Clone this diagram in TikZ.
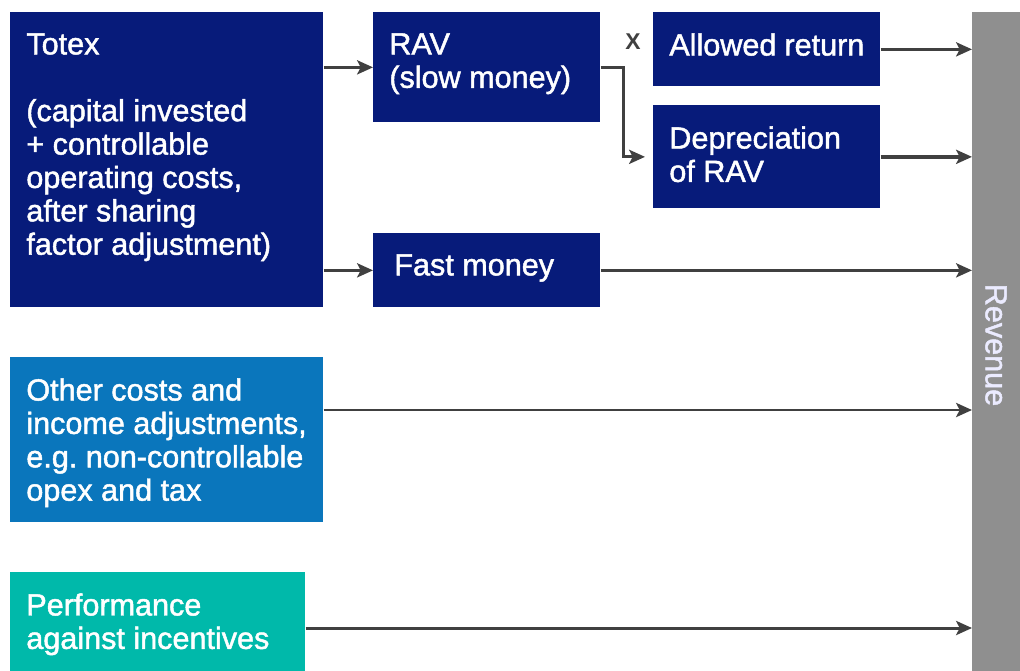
\documentclass[tikz,border=0pt]{standalone}
\usepackage{fontspec}
\setmainfont{Liberation Sans}
\newfontfamily\boxfont{Liberation Sans}[FakeBold=1.5]
\usepackage{xcolor}
\usetikzlibrary{arrows.meta}
\definecolor{navy}{RGB}{7,27,122}
\definecolor{midblue}{RGB}{10,118,188}
\definecolor{tealgreen}{RGB}{0,185,170}
\definecolor{bargray}{RGB}{143,143,143}
\definecolor{arrowgray}{RGB}{64,64,64}
\newcommand{\boxtext}[3]{\parbox[c][#2][t]{#1}{\raggedright #3}}
\frenchspacing

\begin{document}
\begin{tikzpicture}[
        box/.style={anchor=north west, inner xsep=0.32cm, inner ysep=0.42cm, text=white, font=\boxfont\fontsize{17.4}{19}\selectfont},
        arr/.style={draw=arrowgray, line width=1.7pt, -{Stealth[length=9pt,width=8pt,inset=2pt]}},
        mult/.style={text=arrowgray, inner sep=0pt, font=\bfseries\fontsize{13}{15}\selectfont}
    ]
        \useasboundingbox (0,0) rectangle (20.4,-13.42);
        % boxes on the left
        \node[box, fill=navy] (totex) at (0.2,-0.24) {\boxtext{5.62cm}{5.06cm}{Totex\\[19pt](capital invested\\+ controllable\\operating costs,\\after sharing\\factor adjustment)}};
        \node[box, fill=midblue] (other) at (0.2,-7.14) {\boxtext{5.62cm}{2.46cm}{Other costs and\\income adjustments,\\e.g. non-controllable\\opex and tax}};
        \node[box, fill=tealgreen] (perf) at (0.2,-11.44) {\boxtext{5.26cm}{1.14cm}{Performance\\against incentives}};
        % middle and right boxes
        \node[box, fill=navy] (rav) at (7.46,-0.24) {\boxtext{3.9cm}{1.36cm}{RAV\\(slow money)}};
        \node[box, fill=navy] (fast) at (7.46,-4.66) {\boxtext{3.9cm}{0.64cm}{\hspace{0.1cm}Fast money}};
        \node[box, fill=navy] (allowed) at (13.06,-0.24) {\boxtext{3.9cm}{0.64cm}{Allowed return}};
        \node[box, fill=navy] (dep) at (13.06,-2.1) {\boxtext{3.9cm}{1.22cm}{Depreciation\\of RAV}};
        % revenue bar
        \node[fill=bargray, anchor=north west, inner sep=0pt, minimum width=0.96cm, minimum height=13.18cm] (revenue) at (19.44,-0.24) {};
        \node[rotate=-90, text=white!92!blue, font=\boxfont\fontsize{17.4}{19}\selectfont] (revlabel) at (19.92,-6.9) {Revenue};
        % connectors
        \draw[arr] (totex.east |- rav.west) -- (rav.west);
        \draw[arr] (totex.east |- fast.west) -- (fast.west);
        \draw[arr, shorten >=0.16cm] (rav.east) -- ++(0.46,0) |- (dep.west);
        \node[mult] (times) at (12.66,-0.84) {X};
        \draw[arr] (allowed.east) -- (allowed.east -| revenue.west);
        \draw[arr, line width=2.3pt] (dep.east) -- (dep.east -| revenue.west);
        \draw[arr] (fast.east) -- (fast.east -| revenue.west);
        \coordinate (otherout) at ([yshift=-1.06cm]other.north east);
        \draw[arr] (otherout) -- (otherout -| revenue.west);
        \coordinate (perfout) at ([yshift=-1.12cm]perf.north east);
        \draw[arr] (perfout) -- (perfout -| revenue.west);
    \end{tikzpicture}
\end{document}
